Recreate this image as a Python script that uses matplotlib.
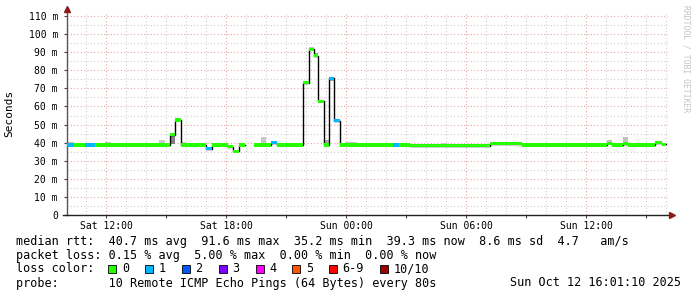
import numpy as np
import matplotlib
matplotlib.use("Agg")
import matplotlib.pyplot as plt
import matplotlib.patches as mpatches

# segment edges in hours since Sat 00:00
t_edges = [10.05, 10.40, 10.95, 11.45, 11.95, 12.25, 14.10, 14.35, 14.65, 14.95,
           15.20, 15.45, 15.75, 16.00, 17.00, 17.30, 18.10, 18.35, 18.65, 18.95,
           19.40, 19.75, 20.00, 20.25, 20.55, 21.85, 22.15, 22.40, 22.60, 22.90,
           23.15, 23.40, 23.70, 23.95, 24.55, 26.35, 26.65, 27.20, 28.80, 29.05,
           31.20, 31.50, 32.80, 37.05, 37.30, 37.85, 38.10, 38.70, 38.95, 39.45,
           39.80, 40.00]
# median rtt in ms per segment (nan = no data)
median_ms = [38.7, 38.7, 38.7, 38.7, 38.7, 38.7, 38.7, 38.7, 38.7, 38.7,
             44.4, 52.5, 38.7, 38.7, 36.7, 38.7, 37.8, 35.2, 38.7, np.nan,
             38.7, 38.7, 38.7, 40.0, 38.7, 73.0, 91.6, 88.0, 62.8, 38.7,
             75.7, 52.0, 38.7, 38.7, 38.7, 38.7, 38.7, 38.3, 38.3, 38.3,
             39.4, 39.4, 38.7, 39.6, 38.7, 39.5, 38.7, 38.7, 38.7, 40.0,
             39.0]
# lost pings per segment
loss = [1, 0, 1, 0, 0, 0, 0, 0, 0, 0,
        0, 0, 0, 0, 1, 0, 0, 0, 0, 0,
        0, 0, 0, 1, 0, 0, 0, 0, 0, 0,
        1, 1, 0, 0, 0, 1, 0, 0, 0, 0,
        0, 0, 0, 0, 0, 0, 0, 0, 0, 0,
        0]

# smoke (spread of the pings)
smoke_t0 = [10.05, 11.95, 14.10, 14.65, 15.20, 15.75, 19.75, 21.85, 22.15, 22.40,
            22.60, 22.90, 23.15, 23.40, 23.95, 28.80, 31.20, 37.05, 37.85, 38.70]
smoke_t1 = [10.40, 12.25, 14.35, 14.95, 15.45, 16.00, 20.00, 22.15, 22.40, 22.60,
            22.90, 23.15, 23.40, 23.70, 24.55, 29.05, 31.50, 37.30, 38.10, 38.95]
smoke_lo = [38.7, 38.7, 38.7, 38.7, 39.5, 38.7, 38.7, 73.0, 91.6, 88.0,
            62.8, 38.7, 74.3, 52.0, 38.7, 38.3, 39.4, 39.6, 39.5, 38.7]
smoke_hi = [40.2, 40.2, 39.9, 41.5, 44.4, 40.2, 43.1, 73.8, 92.6, 89.5,
            63.4, 41.3, 75.7, 52.9, 40.6, 39.9, 40.2, 41.4, 43.0, 39.6]
smoke_shade = ['#c8c8c8', '#c8c8c8', '#c8c8c8', '#c8c8c8', '#808080', '#c8c8c8',
               '#c8c8c8', '#c8c8c8', '#c8c8c8', '#a0a0a0', '#c8c8c8', '#a8a8a8',
               '#a8a8a8', '#c8c8c8', '#c8c8c8', '#c8c8c8', '#c8c8c8', '#c0c0c0',
               '#c0c0c0', '#c8c8c8']

loss_labels = ["0", "1", "2", "3", "4", "5", "6-9", "10/10"]
loss_colors = ["#26ff00", "#00b8ff", "#0059ff", "#7e00ff", "#ff00ff",
               "#ff5500", "#ff0000", "#a10000"]

y_ticks = [0, 10, 20, 30, 40, 50, 60, 70, 80, 90, 100, 110]
x_ticks = [12, 18, 24, 30, 36]
x_labels = ["Sat 12:00", "Sat 18:00", "Sun 00:00", "Sun 06:00", "Sun 12:00"]

W, H = 697, 297
MONO = "DejaVu Sans Mono"

def fx(x):
    return x / W

def fy(y):
    return 1 - y / H

fig = plt.figure(figsize=(W / 100, H / 100), dpi=100)
fig.patch.set_facecolor("white")
ax = fig.add_axes([fx(67), fy(215), (668 - 67) / W, (215 - 12) / H])
x0, x1 = 10.05, 10.05 + 601 / 20
ax.set_xlim(x0, x1)
ax.set_ylim(0, 203 / 1.809)

# grid
for h in range(11, 41):
    major = h % 6 == 0
    ax.axvline(h, color="#e6a8a8" if major else "#cfcfcf", lw=0.8,
               ls=(0, (1, 2)), zorder=0)
for v in range(5, 115, 5):
    major = v % 10 == 0
    ax.axhline(v, color="#e6a8a8" if major else "#cfcfcf", lw=0.8,
               ls=(0, (1, 2)), zorder=0)

# smoke
for a, b, lo, hi, c in zip(smoke_t0, smoke_t1, smoke_lo, smoke_hi, smoke_shade):
    ax.fill_between([a, b], [lo, lo], [hi, hi], color=c, lw=0, zorder=1)

# median line with connectors
xs = np.array(t_edges)
ys = np.array(median_ms + [median_ms[-1]])
ax.step(xs, ys, where="post", color="black", lw=1.0, zorder=2)

half = 0.85
for i, m in enumerate(median_ms):
    if np.isnan(m):
        continue
    ax.fill_between([t_edges[i], t_edges[i + 1]], [m - half] * 2, [m + half] * 2,
                    color=loss_colors[loss[i]], lw=0, zorder=3)

# axes
for s in ["top", "right"]:
    ax.spines[s].set_visible(False)
ax.spines["left"].set_color("#555555")
ax.spines["bottom"].set_color("#222222")
ax.spines["left"].set_linewidth(1.0)
ax.spines["bottom"].set_linewidth(1.0)
ax.spines["bottom"].set_bounds(x0 - 4 / 20, x1)

ax.set_yticks(y_ticks)
ax.set_yticklabels(["0" if v == 0 else f"{v} m" for v in y_ticks],
                   family=MONO, fontsize=7)
ax.set_xticks(x_ticks)
ax.set_xticklabels(x_labels, family=MONO, fontsize=7)
ax.set_xticks(list(range(12, 41, 3)), minor=True)
ax.tick_params(axis="both", which="both", length=2.5, width=0.8,
               color="#444444")
ax.tick_params(axis="x", pad=1.5)
ax.tick_params(axis="y", pad=4)
ax.set_ylabel("Seconds", family=MONO, fontsize=8)
ax.yaxis.set_label_coords(-0.087, 0.5)

# arrows
ax.plot([0], [1.0 + 3 / 203], marker="^", color="#8b1a1a", markersize=4,
        transform=ax.transAxes, clip_on=False, zorder=5)
ax.plot([1.0 + 4 / 601], [0], marker=">", color="#8b1a1a", markersize=4,
        transform=ax.transAxes, clip_on=False, zorder=5)

# watermark
fig.text(fx(686), fy(5), "RRDTOOL / TOBI OETIKER", rotation=-90, ha="center",
         va="top", family=MONO, fontsize=5.8, color="#c4c4c4")

# legend
fs = 8.5
fig.text(fx(16), fy(241),
         "median rtt:  40.7 ms avg  91.6 ms max  35.2 ms min  39.3 ms now  8.6 ms sd  4.7   am/s",
         family=MONO, fontsize=fs, va="center")
fig.text(fx(16), fy(255),
         "packet loss: 0.15 % avg  5.00 % max  0.00 % min  0.00 % now",
         family=MONO, fontsize=fs, va="center")
fig.text(fx(16), fy(269), "loss color:", family=MONO, fontsize=fs, va="center")
bx = 108.3
for i, (lab, col) in enumerate(zip(loss_labels, loss_colors)):
    fig.patches.append(mpatches.Rectangle((fx(bx), fy(273)), 8 / W, 8 / H,
                                          transform=fig.transFigure,
                                          facecolor=col, edgecolor="black",
                                          lw=0.6))
    fig.text(fx(bx + 13.5), fy(269), lab, family=MONO, fontsize=fs, va="center")
    bx += 36.8 + 7.11 * (len(lab) - 1)
fig.text(fx(16), fy(283),
         "probe:       10 Remote ICMP Echo Pings (64 Bytes) every 80s",
         family=MONO, fontsize=fs, va="center")
fig.text(fx(681), fy(283), "Sun Oct 12 16:01:10 2025", family=MONO,
         fontsize=fs, va="center", ha="right")

fig.savefig("out.png", dpi=100, facecolor="white")
